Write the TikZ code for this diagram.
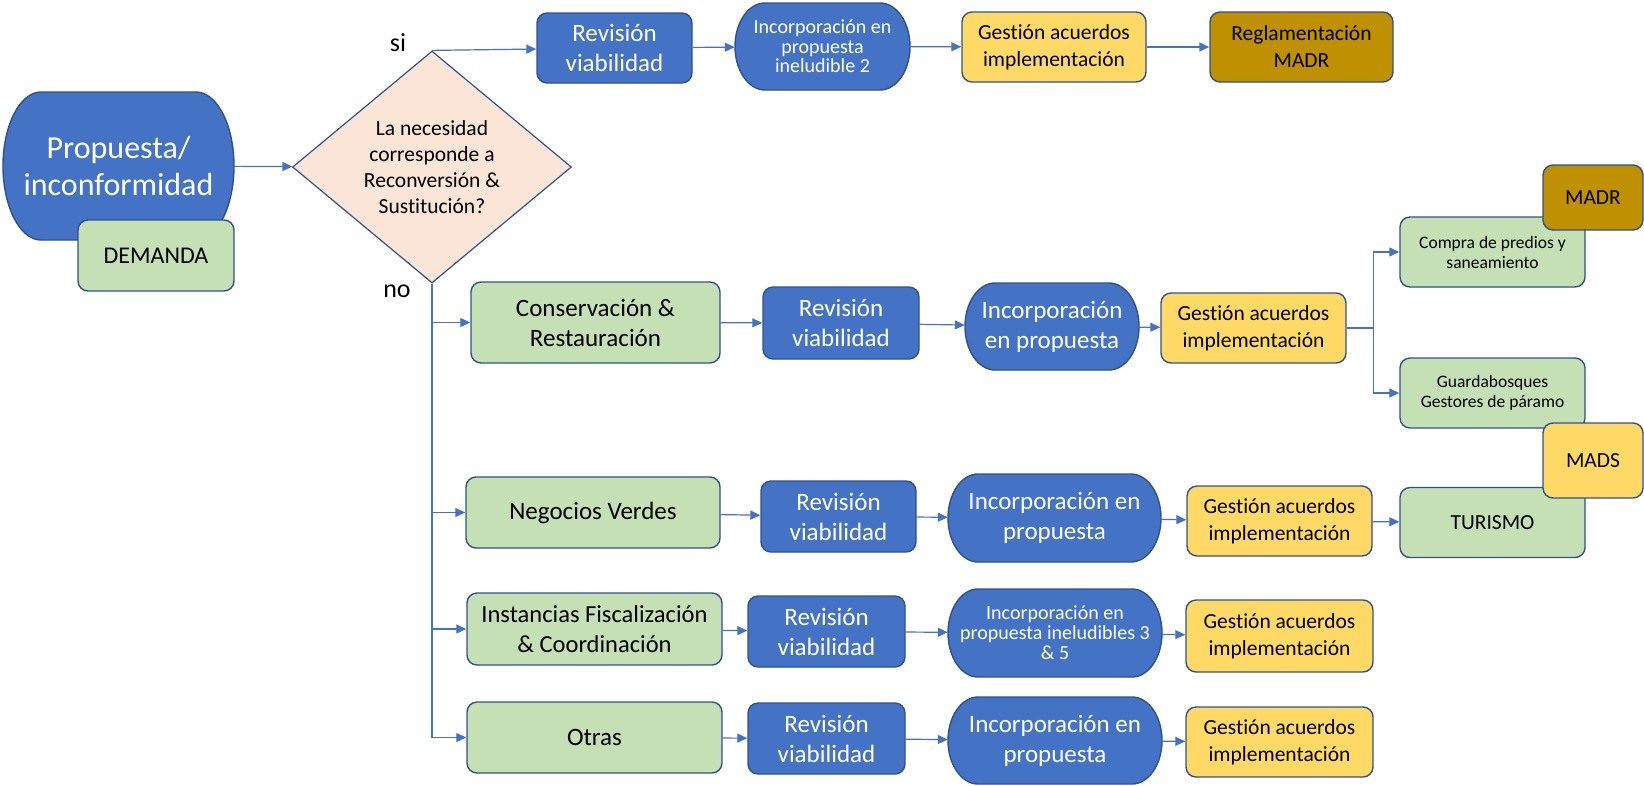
\documentclass[tikz,border=0pt]{standalone}
\usepackage{fontspec}
\setmainfont{Carlito}[Ligatures=NoCommon]
\usetikzlibrary{shapes.geometric,arrows.meta}
\definecolor{accblue}{HTML}{4472C4}
\definecolor{lineblue}{HTML}{2F528F}
\definecolor{accgreen}{HTML}{C5E0B4}
\definecolor{accyellow}{HTML}{FFD966}
\definecolor{accgold}{HTML}{BF9000}
\definecolor{accpeach}{HTML}{FBE5D6}
% forma de terminador con extremos elipticos: x, y, ancho, alto, radio x
\newcommand{\termshape}[5]{%
  \filldraw[fill=accblue,draw=lineblue,line width=1.4pt]
    ({#1+#3/2-#5},{#2-#4/2}) arc[start angle=-90,end angle=90,x radius=#5,y radius={#4/2}]
    -- ({#1-#3/2+#5},{#2+#4/2}) arc[start angle=90,end angle=270,x radius=#5,y radius={#4/2}]
    -- cycle;}

\begin{document}
\begin{tikzpicture}[x=1pt,y=-1pt]
\tikzstyle{box}=[rectangle,rounded corners=10pt,draw=lineblue,line width=1.4pt,inner sep=0pt,align=center]
\tikzstyle{bluebox}=[box,fill=accblue,text=white]
\tikzstyle{greenbox}=[box,fill=accgreen]
\tikzstyle{yellowbox}=[box,fill=accyellow]
\tikzstyle{goldbox}=[box,fill=accgold]
\tikzstyle{pill}=[rectangle,inner sep=0pt,align=center,text=white]
\tikzstyle{fbig}=[font=\fontsize{25}{30}\selectfont]
\tikzstyle{fmid}=[font=\fontsize{21.5}{27}\selectfont]
\tikzstyle{fsmall}=[font=\fontsize{20}{19.5}\selectfont]
\tikzstyle{ftiny}=[font=\fontsize{17.5}{20}\selectfont]
\tikzstyle{flow}=[draw=accblue,line width=1.2pt,-{Triangle[length=10pt,width=9pt]}]
\path[use as bounding box,fill=white] (0,0) rectangle (1644,785);
    % demanda y decision
    \termshape{118.5}{166}{231}{148}{38}
    \node[pill,minimum width=231pt,minimum height=148pt,font=\fontsize{32}{37}\selectfont] (prop) at (118.5,166) {Propuesta/\\inconformidad};
    \node[greenbox,minimum width=156pt,minimum height=71pt,font=\fontsize{24}{29}\selectfont] (dem) at (156,255.5) {DEMANDA};
    \node[diamond,shape aspect=1.2,draw=lineblue,line width=1.2pt,fill=accpeach,inner sep=0pt,align=center,minimum width=279pt,minimum height=232pt,font=\fontsize{21.5}{26}\selectfont] (dec) at (432,167) {La necesidad\\corresponde a\\Reconversión \&\\Sustitución?};
    \node[font=\fontsize{26}{30}\selectfont] (si) at (398,43) {si};
    \node[font=\fontsize{26}{30}\selectfont] (no) at (397,291) {no};
    % fila si
    \node[bluebox,fbig,minimum width=155pt,minimum height=70pt] (rev0) at (614.5,48) {Revisión\\viabilidad};
    \termshape{822.5}{46.5}{175}{87}{30}
    \node[pill,fsmall,minimum width=175pt,minimum height=87pt] (inc0) at (822.5,46.5) {Incorporación en\\propuesta\\ineludible 2};
    \node[yellowbox,fmid,minimum width=184pt,minimum height=70pt] (ges0) at (1054,47) {Gestión acuerdos\\implementación};
    \node[goldbox,fmid,minimum width=183pt,minimum height=70pt] (reg0) at (1301.5,47) {Reglamentación\\MADR};
    % conservacion
    \node[greenbox,fbig,minimum width=249pt,minimum height=81pt] (cons) at (595.5,322.5) {Conservación \&\\Restauración};
    \node[bluebox,fbig,minimum width=156pt,minimum height=72pt] (rev1) at (841,323) {Revisión\\viabilidad};
    \termshape{1052}{326.5}{174}{87}{30}
    \node[pill,fbig,minimum width=174pt,minimum height=87pt] (inc1) at (1052,326.5) {Incorporación\\en propuesta};
    \node[yellowbox,fmid,minimum width=185pt,minimum height=70pt] (ges1) at (1253.5,328) {Gestión acuerdos\\implementación};
    \node[greenbox,ftiny,minimum width=185pt,minimum height=70pt] (compra) at (1492.5,252) {Compra de predios y\\saneamiento};
    \node[goldbox,fmid,minimum width=100pt,minimum height=65pt] (madr) at (1593,197.5) {MADR};
    \node[greenbox,ftiny,minimum width=185pt,minimum height=70pt] (guard) at (1492.5,393) {Guardabosques\\Gestores de páramo};
    % negocios verdes
    \node[greenbox,fbig,minimum width=254pt,minimum height=71pt] (neg) at (593,512.5) {Negocios Verdes};
    \node[bluebox,fbig,minimum width=155pt,minimum height=71pt] (rev2) at (838.5,516.5) {Revisión\\viabilidad};
    \termshape{1054.5}{518}{213}{88}{30}
    \node[pill,fbig,minimum width=213pt,minimum height=88pt] (inc2) at (1054.5,518) {Incorporación en\\propuesta};
    \node[yellowbox,fmid,minimum width=185pt,minimum height=70pt] (ges2) at (1279.5,521) {Gestión acuerdos\\implementación};
    \node[greenbox,fmid,minimum width=185pt,minimum height=70pt] (tur) at (1492.5,522.5) {TURISMO};
    \node[yellowbox,fmid,minimum width=100pt,minimum height=75pt] (mads) at (1593,460.5) {MADS};
    % instancias
    \node[greenbox,font=\fontsize{24.5}{30}\selectfont,minimum width=255pt,minimum height=72pt] (inst) at (594.5,629) {Instancias Fiscalización\\\& Coordinación};
    \node[bluebox,fbig,minimum width=157pt,minimum height=71pt] (rev3) at (826.5,631.5) {Revisión\\viabilidad};
    \termshape{1055}{633}{214}{88}{30}
    \node[pill,font=\fontsize{20}{20}\selectfont,minimum width=214pt,minimum height=88pt] (inc3) at (1055,633) {Incorporación en\\propuesta ineludibles 3\\\& 5};
    \node[yellowbox,fmid,minimum width=187pt,minimum height=72pt] (ges3) at (1279.5,636) {Gestión acuerdos\\implementación};
    % otras
    \node[greenbox,fbig,minimum width=255pt,minimum height=71pt] (otr) at (594.5,737.5) {Otras};
    \node[bluebox,fbig,minimum width=157pt,minimum height=71pt] (rev4) at (826.5,738.5) {Revisión\\viabilidad};
    \termshape{1055}{740.5}{214}{87}{30}
    \node[pill,fbig,minimum width=214pt,minimum height=87pt] (inc4) at (1055,740.5) {Incorporación en\\propuesta};
    \node[yellowbox,fmid,minimum width=187pt,minimum height=70pt] (ges4) at (1279.5,742) {Gestión acuerdos\\implementación};
    % conectores
    \path (prop) edge [flow] (dec);
    \path (dec.north) edge [flow] (rev0);
    \path (rev0) edge [flow] (inc0);
    \path (inc0) edge [flow] (ges0);
    \path (ges0) edge [flow] (reg0);
    \draw[flow] (dec.south) |- (cons.west);
    \draw[flow] (dec.south) |- (neg.west);
    \draw[flow] (dec.south) |- (inst.west);
    \draw[flow] (dec.south) |- (otr.west);
    \path (cons) edge [flow] (rev1);
    \path (rev1) edge [flow] (inc1);
    \path (inc1) edge [flow] (ges1);
    \draw[flow] (ges1.east) -- ++(27,0) |- (compra.west);
    \draw[flow] (ges1.east) -- ++(27,0) |- (guard.west);
    \path (neg) edge [flow] (rev2);
    \path (rev2) edge [flow] (inc2);
    \path (inc2) edge [flow] (ges2);
    \path (ges2) edge [flow] (tur);
    \path (inst) edge [flow] (rev3);
    \path (rev3) edge [flow] (inc3);
    \path (inc3) edge [flow] (ges3);
    \path (otr) edge [flow] (rev4);
    \path (rev4) edge [flow] (inc4);
    \path (inc4) edge [flow] (ges4);
\end{tikzpicture}
\end{document}
